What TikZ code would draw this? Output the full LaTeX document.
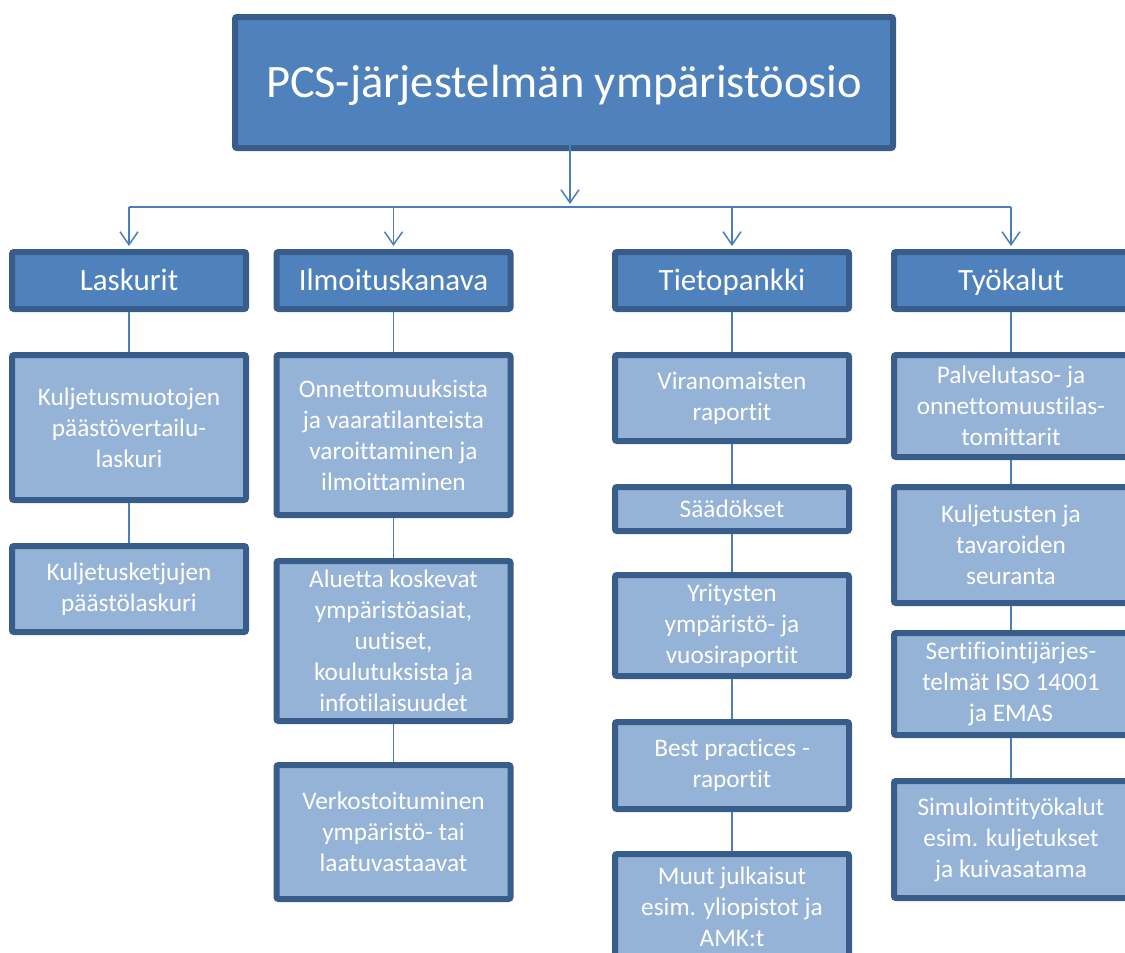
\documentclass[tikz,border=0pt]{standalone}
\usepackage{fontspec}
\setmainfont{Carlito}[Ligatures={NoCommon,NoRare}]
\usetikzlibrary{arrows.meta}
\definecolor{bord}{HTML}{385D8A}
\definecolor{headfill}{HTML}{4F81BD}
\definecolor{subfill}{HTML}{95B3D7}
\definecolor{linec}{HTML}{4A7EBB}
\begin{document}
\begin{tikzpicture}[x=1pt,y=-1pt,
  box/.style={draw=bord, line width=6pt, rounded corners=2pt, inner sep=0pt, text=white, align=center, minimum width=234pt},
  titlebox/.style={box, fill=headfill, minimum width=658pt, minimum height=131pt, text height=30pt, text depth=0pt, font=\fontsize{46.5}{55}\selectfont},
  headbox/.style={box, fill=headfill, minimum height=57pt, text height=20pt, text depth=0pt, font=\fontsize{31}{37}\selectfont},
  subbox/.style={box, fill=subfill, font=\fontsize{25.3}{31}\selectfont},
  conn/.style={draw=linec, line width=1.8pt},
  arr/.style={conn, shorten >=3pt, -{Straight Barb[length=13pt,width=18pt,line width=1.5pt]}}]
\useasboundingbox (0,0) rectangle (1125,953);
\clip (0,0) rectangle (1125,953);

\node[titlebox] (top) at (564,82.5) {PCS-järjestelmän ympäristöosio};

\node[headbox] (L) at (129,280.5) {Laskurit};
\node[headbox] (I) at (393.5,280.5) {Ilmoituskanava};
\node[headbox] (T) at (732,280.5) {Tietopankki};
\node[headbox] (W) at (1011,280.5) {Työkalut};

\node[subbox, minimum height=145pt] (L1) at (129,427.5) {Kuljetusmuotojen\\päästövertailu-\\laskuri};
\node[subbox, minimum height=86pt] (L2) at (129,589) {Kuljetusketjujen\\päästölaskuri};

\node[subbox, minimum height=160pt] (I1) at (393.5,435) {Onnettomuuksista\\ja vaaratilanteista\\varoittaminen ja\\ilmoittaminen};
\node[subbox, minimum height=160pt] (I2) at (393.5,641) {Aluetta koskevat\\ympäristöasiat,\\uutiset,\\koulutuksista ja\\infotilaisuudet};
\node[subbox, minimum height=134pt] (I3) at (393.5,832) {Verkostoituminen\\ympäristö- tai\\laatuvastaavat};

\node[subbox, minimum height=86pt] (T1) at (732,398) {Viranomaisten\\raportit};
\node[subbox, minimum height=44pt] (T2) at (732,509) {Säädökset};
\node[subbox, minimum height=101pt] (T3) at (732,625.5) {Yritysten\\ympäristö- ja\\vuosiraportit};
\node[subbox, minimum height=87pt] (T4) at (732,765.5) {Best practices -\\raportit};
\node[subbox, minimum height=105pt] (T5) at (732,906.5) {Muut julkaisut\\esim. yliopistot ja\\AMK:t};

\node[subbox, minimum height=102pt] (W1) at (1011,406) {Palvelutaso- ja\\onnettomuustilas-\\tomittarit};
\node[subbox, minimum height=116pt] (W2) at (1011,545) {Kuljetusten ja\\tavaroiden\\seuranta};
\node[subbox, minimum height=102pt] (W3) at (1011,684) {Sertifiointijärjes-\\telmät ISO 14001\\ja EMAS};
\node[subbox, minimum height=117pt] (W4) at (1011,839.5) {Simulointityökalut\\esim. kuljetukset\\ja kuivasatama};

\coordinate (ts) at (570,140);
\coordinate (bm) at (570,207);
\coordinate (b1) at (129,207);
\coordinate (b4) at (1011,207);
\coordinate (b2) at (393.5,207);
\coordinate (b3) at (732,207);

\draw[arr] (ts) -- (bm);
\draw[conn] (b1) -- (b4);
\draw[arr] (b1) -- (L.north);
\draw[arr] (b2) -- (I.north);
\draw[arr] (b3) -- (T.north);
\draw[arr] (b4) -- (W.north);

\draw[conn] (L) -- (L1);
\draw[conn] (L1) -- (L2);
\draw[conn] (I) -- (I1);
\draw[conn] (I1) -- (I2);
\draw[conn] (I2) -- (I3);
\draw[conn] (T) -- (T1);
\draw[conn] (T1) -- (T2);
\draw[conn] (T2) -- (T3);
\draw[conn] (T3) -- (T4);
\draw[conn] (T4) -- (T5);
\draw[conn] (W) -- (W1);
\draw[conn] (W1) -- (W2);
\draw[conn] (W2) -- (W3);
\draw[conn] (W3) -- (W4);
\end{tikzpicture}
\end{document}
